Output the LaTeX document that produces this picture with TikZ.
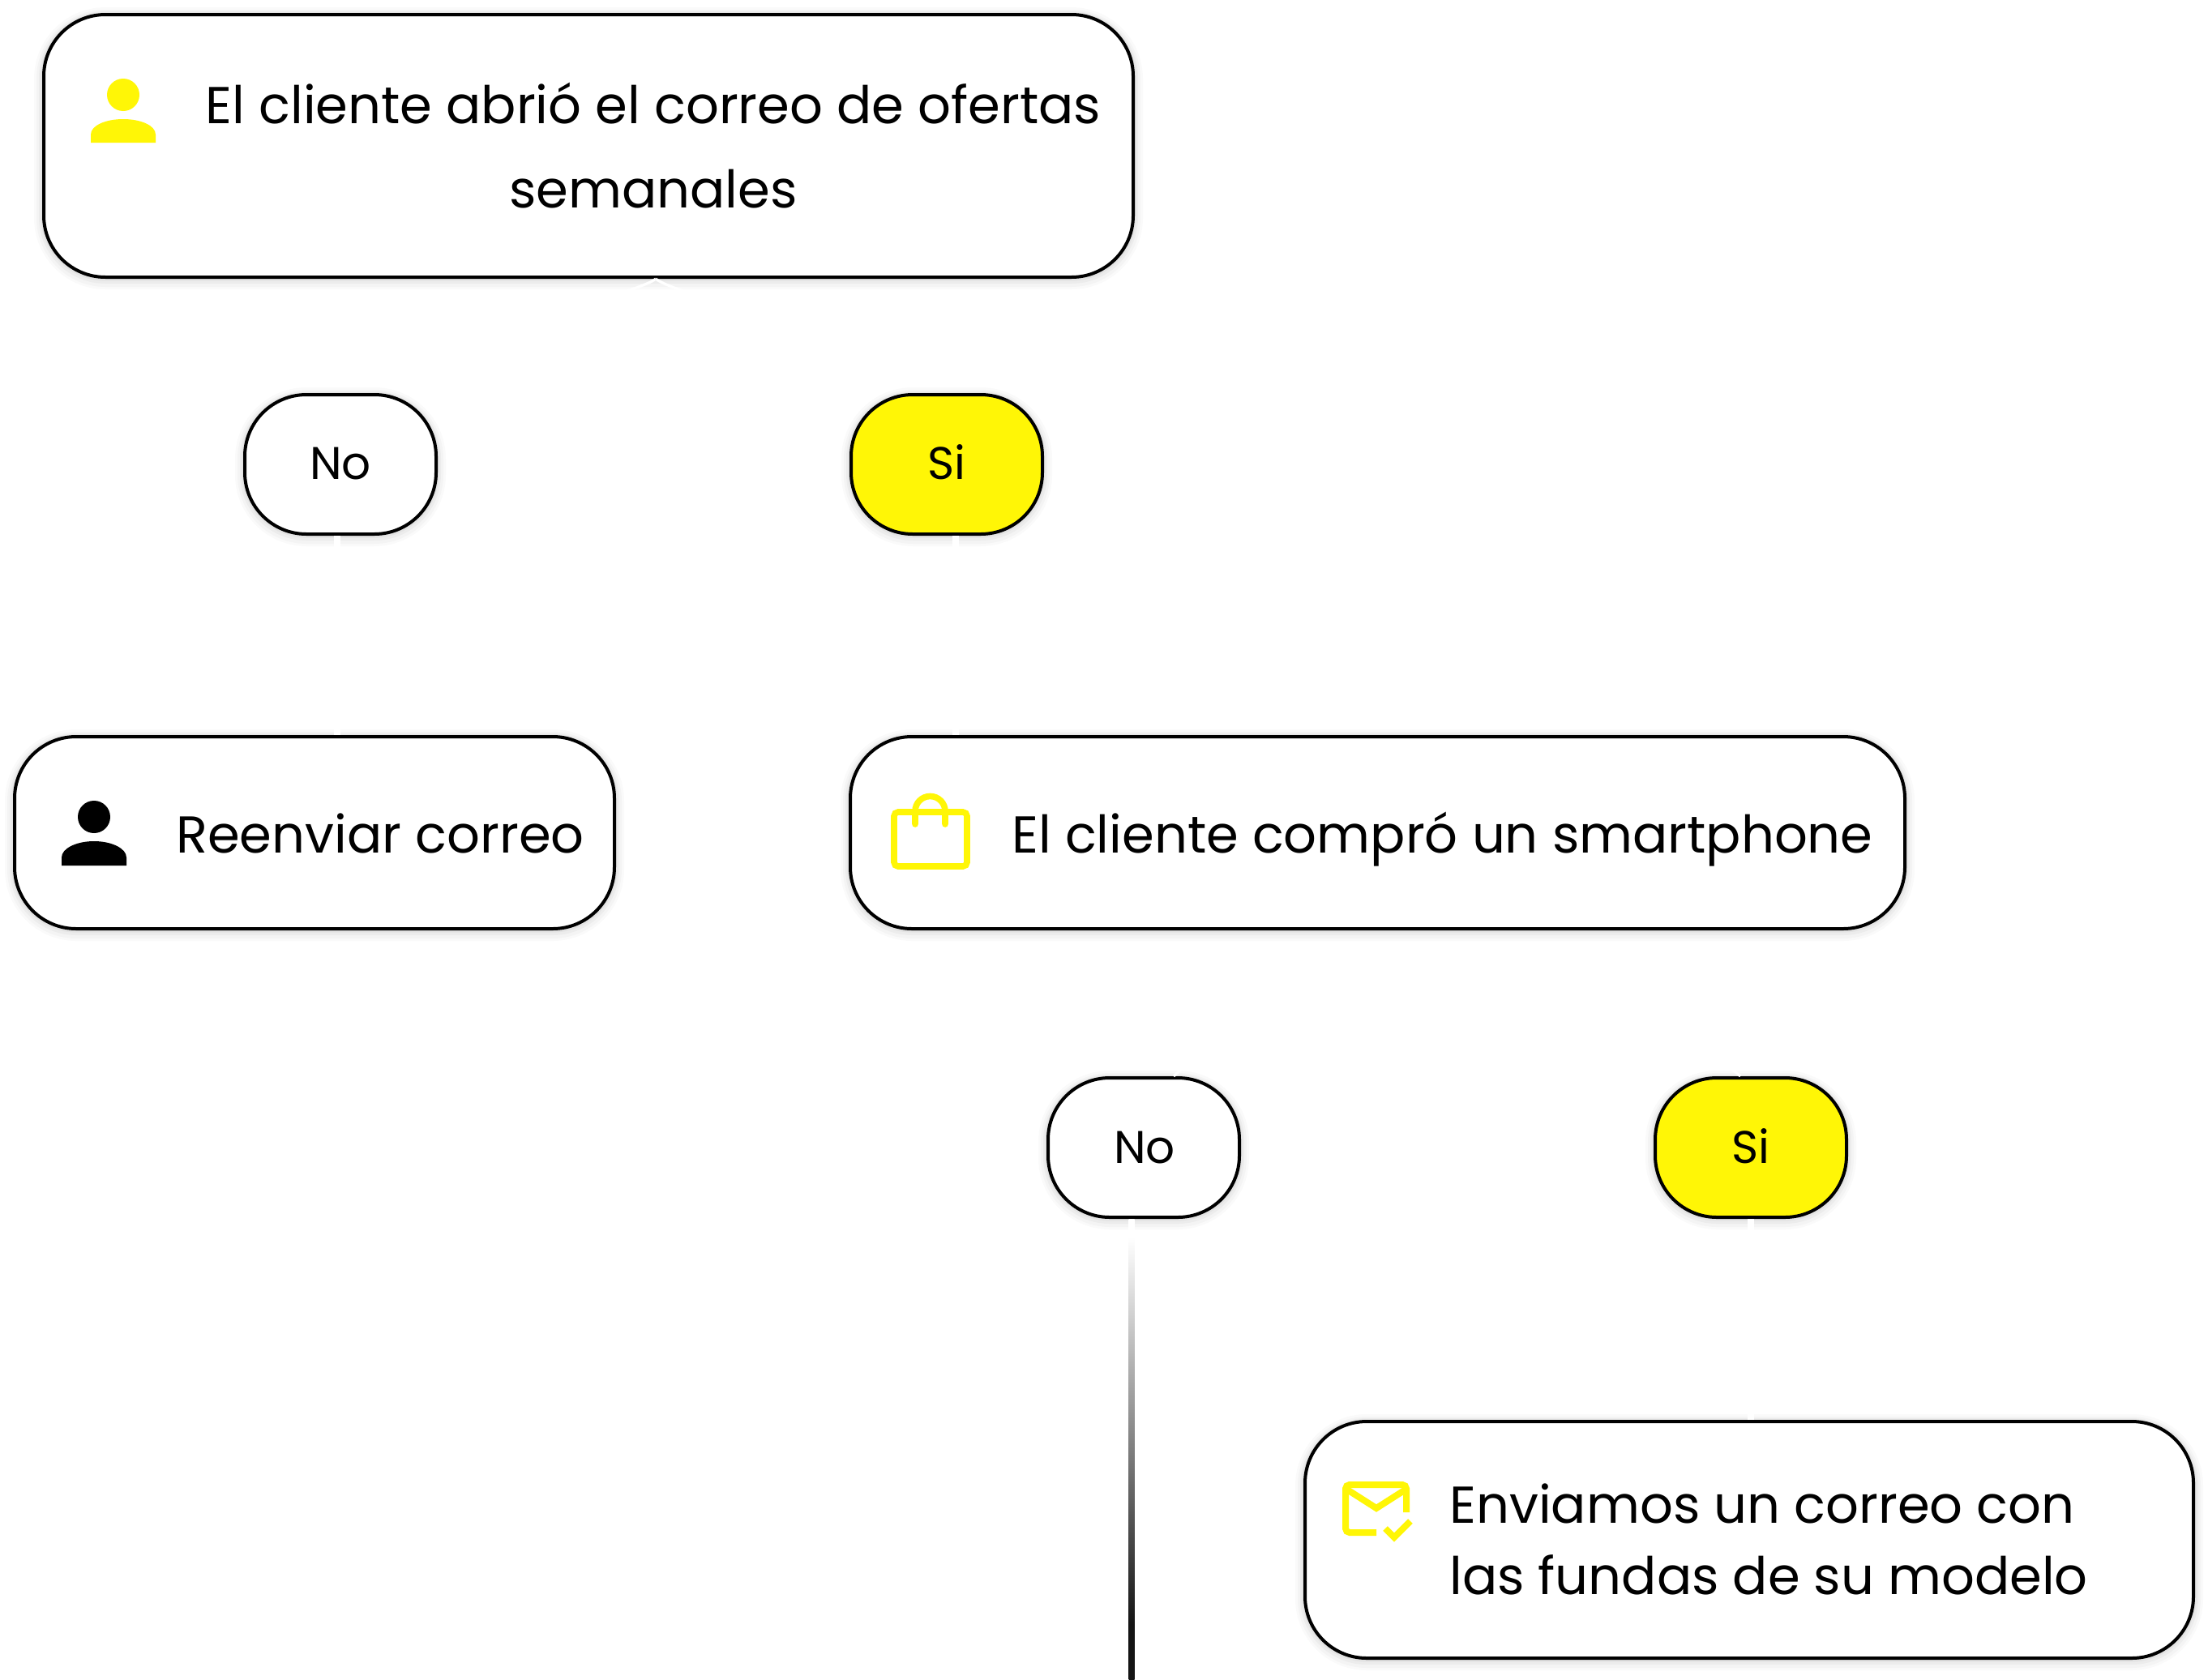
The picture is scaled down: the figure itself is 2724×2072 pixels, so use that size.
\documentclass[tikz,border=0pt]{standalone}
\usepackage{fontspec}
\setmainfont{Poppins}
\definecolor{brandyellow}{HTML}{FFF606}
\pgfdeclareverticalshading{fadeline}{100bp}{color(0bp)=(black!92); color(31bp)=(black!92); color(73bp)=(white); color(100bp)=(white)}
\tikzset{
  softshadow/.style={
    preaction={draw=black,draw opacity=.02,line width=12pt,transform canvas={yshift=-1.5pt}},
    preaction={draw=black,draw opacity=.025,line width=9pt,transform canvas={yshift=-1.5pt}},
    preaction={draw=black,draw opacity=.03,line width=6pt,transform canvas={yshift=-1pt}},
    preaction={draw=black,draw opacity=.04,line width=3.6pt,transform canvas={yshift=-.5pt}}},
  card/.style={rectangle,rounded corners=38pt,softshadow,draw=black,line width=2pt,fill=white,inner sep=0pt},
  choice/.style={card,minimum width=118pt,minimum height=86pt},
  bigtext/.style={inner sep=0pt,font=\fontsize{32}{32}\selectfont},
  smalltext/.style={inner sep=0pt,font=\fontsize{28.2}{32}\selectfont},
  linktext/.style={draw=white,line width=4pt},
  thinlink/.style={draw=white,line width=1.6pt},
  iconline/.style={draw=brandyellow,line width=3.8pt}
}
\begin{document}
\begin{tikzpicture}[x=.5pt,y=-.5pt]
\useasboundingbox (0,0) rectangle (2724,2072);
% cards
\node[card,minimum width=672pt,minimum height=162pt] (open) at (726,180) {};
\node[choice] (noA) at (420,573) {};
\node[choice,fill=brandyellow] (siA) at (1168,573) {};
\node[card,minimum width=370pt,minimum height=118.5pt] (resend) at (388,1027.5) {};
\node[card,minimum width=650.5pt,minimum height=118.5pt] (bought) at (1699.5,1027.5) {};
\node[choice] (noB) at (1411,1416) {};
\node[choice,fill=brandyellow] (siB) at (2160,1416) {};
\node[card,minimum width=548pt,minimum height=146pt] (send) at (2158,1900) {};
% connectors
\draw[linktext] ([xshift=-2pt]noA.south) -- ([xshift=-2pt]noA.south |- resend.north);
\draw[linktext] ([xshift=5.5pt]siA.south) -- ([xshift=5.5pt]siA.south |- bought.north);
\draw[linktext] (siB.south) -- (siB.south |- send.north);
\draw[thinlink,shorten >=14pt] ([xshift=41.5pt]open.south) .. controls +(-30,25) and +(0,-40) .. (noA.north);
\draw[thinlink,shorten >=14pt] ([xshift=41.5pt]open.south) .. controls +(30,25) and +(0,-40) .. (siA.north);
\draw[thinlink,shorten <=14pt] (bought.south) .. controls +(0,60) and +(60,-60) .. ([xshift=18.5pt]noB.north);
\draw[thinlink,shorten <=14pt] (bought.south) .. controls +(0,60) and +(-60,-60) .. ([xshift=-6.5pt]siB.north);
\coordinate (lineend) at (1399.5,2072);
\shade[shading=fadeline] ([xshift=-9.25pt]noB.south) rectangle (lineend);
% texts
\node[bigtext,align=center,anchor=base,font=\fontsize{32}{52}\selectfont] (tOpen) at (806,256.5) {El cliente abrió el correo de ofertas\\semanales};
\node[smalltext,anchor=base] (tNoA) at (420,591) {No};
\node[smalltext,anchor=base] (tSiA) at (1168,591) {Si};
\node[bigtext,anchor=base west] (tResend) at (217,1052) {Reenviar correo};
\node[bigtext,anchor=base west] (tBought) at (1248,1052) {El cliente compró un smartphone};
\node[smalltext,anchor=base] (tNoB) at (1412,1435.5) {No};
\node[smalltext,anchor=base] (tSiB) at (2160,1435.5) {Si};
\node[bigtext,align=left,anchor=base west,font=\fontsize{32}{44}\selectfont] (tSend) at (1788,1967) {Enviamos un correo con\\las fundas de su modelo};
% person icons
\fill[brandyellow] (152,117) circle (10pt);
\fill[brandyellow] (112,176) -- (112,166) .. controls (112,155) and (130,147) .. (152,147) .. controls (174,147) and (192,155) .. (192,166) -- (192,176) -- cycle;
\fill[black] (116,1008) circle (10pt);
\fill[black] (76,1068) -- (76,1058) .. controls (76,1047) and (94,1038) .. (116,1038) .. controls (138,1038) and (156,1047) .. (156,1058) -- (156,1068) -- cycle;
% bag
\draw[iconline,rounded corners=2.5pt] (1103,1002) rectangle (1193,1069);
\draw[iconline,line cap=round] (1129,1017) -- (1129,1001) arc[start angle=180,end angle=0,radius=9.25pt] -- (1166,1017);
% mail
\draw[iconline,line width=4pt,rounded corners=2.5pt] (1698,1891) -- (1660,1891) -- (1660,1832) -- (1735,1832) -- (1735,1866);
\draw[iconline,line width=4pt] (1662,1838) -- (1698,1861) -- (1734,1838);
\draw[iconline,line width=4pt] (1709,1886) -- (1720,1897) -- (1740,1877);
\end{tikzpicture}
\end{document}
